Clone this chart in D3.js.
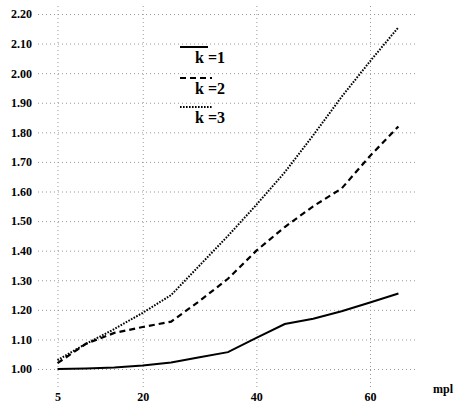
<!DOCTYPE html>
<html>
<head>
<meta charset="utf-8">
<script src="https://cdn.jsdelivr.net/npm/d3@7"></script>
<style>
  body { margin: 0; background: #fff; }
  .grid line { stroke: #999; stroke-width: 1; stroke-dasharray: 1 3; }
</style>
</head>
<body>
<div id="chart"></div>
<script>
// data
const speeds = [5, 10, 15, 20, 25, 30, 35, 40, 45, 50, 55, 60, 65];
const k1 = [1.00, 1.002, 1.005, 1.012, 1.022, 1.04, 1.057, 1.105, 1.152, 1.17, 1.195, 1.225, 1.255];
const k2 = [1.02, 1.085, 1.122, 1.142, 1.16, 1.23, 1.305, 1.40, 1.48, 1.55, 1.61, 1.72, 1.82];
const k3 = [1.03, 1.085, 1.135, 1.19, 1.25, 1.35, 1.45, 1.555, 1.665, 1.79, 1.92, 2.04, 2.155];
const xTicks = [5, 20, 40, 60];
const yTicks = [1.00, 1.10, 1.20, 1.30, 1.40, 1.50, 1.60, 1.70, 1.80, 1.90, 2.00, 2.10, 2.20];
const seriesNames = ['k =1', 'k =2', 'k =3'];

const FONT = '"Liberation Serif", serif';
const W = 454, H = 405;
const svg = d3.select('#chart').append('svg')
  .attr('width', W).attr('height', H);

// 比例尺
const x = d3.scaleLinear().domain([5, 60]).range([57.5, 370]);
const y = d3.scaleLinear().domain([1.0, 2.2]).range([369, 14]);

// grid extents
const gx0 = 38, gx1 = 416, gy0 = 5, gy1 = 387;

// 坐标轴 + 网格
svg.append('g').attr('class', 'grid')
  .attr('transform', `translate(${gx0},0)`)
  .call(d3.axisLeft(y).tickValues(yTicks).tickFormat(d3.format('.2f'))
        .tickSize(-(gx1 - gx0)).tickPadding(6))
  .call(g => g.select('.domain').remove());

svg.append('g').attr('class', 'grid')
  .attr('transform', `translate(0,${gy1})`)
  .call(d3.axisBottom(x).tickValues(xTicks).tickFormat(d => d)
        .tickSize(-(gy1 - gy0)).tickPadding(5))
  .call(g => g.select('.domain').remove());

svg.selectAll('.grid')
  .attr('font-family', FONT)
  .attr('font-size', 12)
  .attr('font-weight', 'bold');

// lines
const styles = [
  { dash: null, width: 2 },
  { dash: '6 4', width: 2.2 },
  { dash: '1.6 1.4', width: 2 }
];
const line = d3.line().x((d, i) => x(speeds[i])).y(d => y(d));

[k1, k2, k3].forEach((s, i) => {
  svg.append('path')
    .datum(s)
    .attr('d', line)
    .attr('fill', 'none')
    .attr('stroke', '#000')
    .attr('stroke-width', styles[i].width)
    .attr('stroke-dasharray', styles[i].dash);
});

// 图例
const legY = [47, 78, 107];
seriesNames.forEach((name, i) => {
  svg.append('line')
    .attr('x1', 180).attr('x2', i === 0 ? 208 : 212)
    .attr('y1', legY[i]).attr('y2', legY[i])
    .attr('stroke', '#000')
    .attr('stroke-width', styles[i].width)
    .attr('stroke-dasharray', styles[i].dash);
  svg.append('text')
    .attr('x', 195).attr('y', legY[i] + 16)
    .attr('font-family', FONT)
    .attr('font-weight', 'bold')
    .attr('font-size', 16)
    .text(name);
});

// axis unit
svg.append('text')
  .attr('x', 433).attr('y', 393)
  .attr('font-family', FONT)
  .attr('font-weight', 'bold')
  .attr('font-size', 12)
  .text('mpl');
</script>
</body>
</html>
